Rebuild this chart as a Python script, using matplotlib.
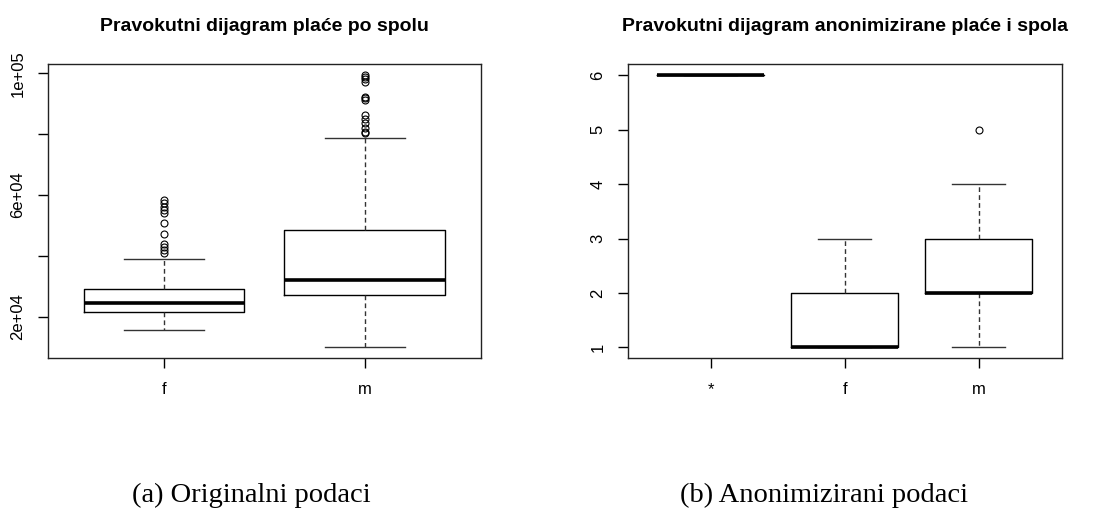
import numpy as np
import matplotlib
matplotlib.use("Agg")
import matplotlib.pyplot as plt

# -----------------------------
# Data
# -----------------------------

# (a) original salaries by gender
orig_groups = ["f", "m"]
orig_q1 = [21640, 27220]
orig_med = [24500, 31950]
orig_q3 = [29000, 48370]
orig_whislo = [15630, 10150]
orig_whishi = [38950, 78590]
orig_fliers = [
    [58330, 57240, 56120, 55040, 53960, 50870, 47160, 43870, 42990, 41900, 41020],
    [99380, 98620, 98060, 97180, 92250, 91720, 91170, 86240, 84930, 83510, 81870, 80760, 80230],
]
orig_yticks = [20000, 40000, 60000, 80000, 100000]
orig_ylabels = ["2e+04", "", "6e+04", "", "1e+05"]

# (b) anonymised salary classes by gender
anon_groups = ["*", "f", "m"]
anon_q1 = [6, 1, 2]
anon_med = [6, 1, 2]
anon_q3 = [6, 2, 3]
anon_whislo = [6, 1, 1]
anon_whishi = [6, 3, 4]
anon_fliers = [[], [], [5]]
anon_yticks = [1, 2, 3, 4, 5, 6]

plt.rcParams["font.family"] = ["Liberation Sans", "DejaVu Sans"]


def make_stats(groups, q1, med, q3, lo, hi, fliers):
    stats = []
    for i, g in enumerate(groups):
        stats.append({
            "label": g, "q1": q1[i], "med": med[i], "q3": q3[i],
            "whislo": lo[i], "whishi": hi[i], "fliers": fliers[i],
        })
    return stats


def r_boxplot(ax, stats, title):
    # mimic R's base boxplot() look
    n = len(stats)
    ax.bxp(stats, positions=range(1, n + 1), widths=0.8, showfliers=True,
           boxprops=dict(color="black", linewidth=1.0),
           medianprops=dict(color="black", linewidth=2.6, solid_capstyle="butt"),
           whiskerprops=dict(color="#333333", linewidth=1.0, linestyle=(0, (3.4, 2.3))),
           capprops=dict(color="#333333", linewidth=1.0),
           flierprops=dict(marker="o", markerfacecolor="none", markeredgecolor="black",
                           markersize=5, markeredgewidth=0.8, linestyle="none"),
           capwidths=0.4)
    # R pads the axis range by 4%
    ext = 0.04 * n
    ax.set_xlim(0.5 - ext, n + 0.5 + ext)
    ax.set_xticks(range(1, n + 1))
    ax.set_xticklabels([s["label"] for s in stats])
    ax.tick_params(axis="x", length=7, width=1.0, pad=10, labelsize=12)
    ax.tick_params(axis="y", length=7, width=1.0, pad=9, labelsize=12)
    for sp in ax.spines.values():
        sp.set_linewidth(1.0)
        sp.set_color("#222222")
    ax.set_title(title, fontsize=14, fontweight="bold", pad=24)


fig = plt.figure(figsize=(10.99, 5.08), dpi=100)
W, H = 1099.0, 508.0
ax1 = fig.add_axes([47.7 / W, (H - 358.3) / H, 433.3 / W, 294.0 / H])
ax2 = fig.add_axes([627.5 / W, (H - 358.3) / H, 434.2 / W, 294.0 / H])

r_boxplot(ax1, make_stats(orig_groups, orig_q1, orig_med, orig_q3,
                          orig_whislo, orig_whishi, orig_fliers),
          "Pravokutni dijagram plaće po spolu")
ax1.set_ylim(6340, 102900)
ax1.set_yticks(orig_yticks)
ax1.set_yticklabels(orig_ylabels, rotation=90, va="center")

r_boxplot(ax2, make_stats(anon_groups, anon_q1, anon_med, anon_q3,
                          anon_whislo, anon_whishi, anon_fliers),
          "Pravokutni dijagram anonimizirane plaće i spola")
ax2.set_ylim(0.8, 6.2)
ax2.set_yticks(anon_yticks)
ax2.set_yticklabels([str(v) for v in anon_yticks], rotation=90, va="center")

# sub-figure captions
fig.text(132.0 / W, (H - 502) / H, "(a) Originalni podaci", family="Liberation Serif",
         fontsize=20.5, ha="left", va="baseline")
fig.text(680.0 / W, (H - 502) / H, "(b) Anonimizirani podaci", family="Liberation Serif",
         fontsize=20.5, ha="left", va="baseline")

fig.savefig("out.png", dpi=100)
